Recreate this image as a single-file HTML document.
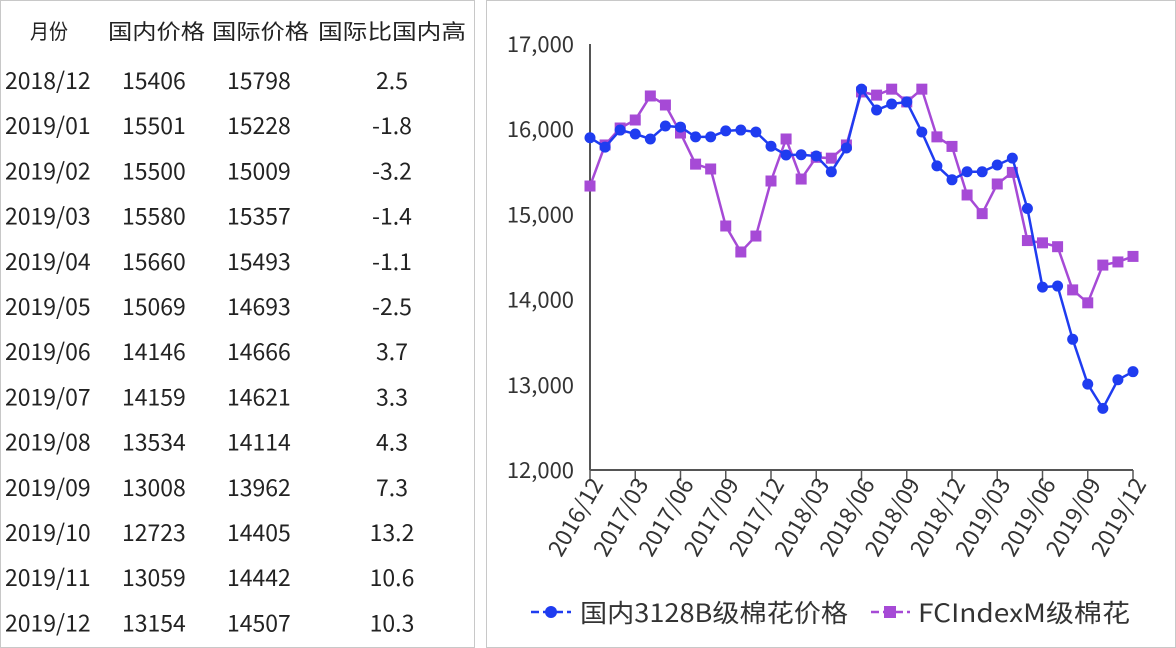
<!DOCTYPE html>
<html><head><meta charset="utf-8">
<style>
body{margin:0;width:1176px;height:648px;background:#fff;overflow:hidden;font-family:"Noto Sans CJK SC","Liberation Sans",sans-serif;}
.panel{position:absolute;border:1px solid #c8c8c8;box-sizing:border-box;}
text{font-family:"Noto Sans CJK SC","Liberation Sans",sans-serif;}
</style></head><body>
<div class="panel" style="left:0;top:0;width:475px;height:648px;"></div>
<div class="panel" style="left:486px;top:0;width:690px;height:648px;"></div>
<svg id="svg" width="1176" height="648" style="position:absolute;left:0;top:0"></svg>
<script>
const months=["2018/12","2019/01","2019/02","2019/03","2019/04","2019/05","2019/06","2019/07","2019/08","2019/09","2019/10","2019/11","2019/12"];
const tblDom=["15406","15501","15500","15580","15660","15069","14146","14159","13534","13008","12723","13059","13154"];
const tblIntl=["15798","15228","15009","15357","15493","14693","14666","14621","14114","13962","14405","14442","14507"];
const tblDiff=["2.5","-1.8","-3.2","-1.4","-1.1","-2.5","3.7","3.3","4.3","7.3","13.2","10.6","10.3"];
const domestic=[15900,15790,15990,15944,15885,16038,16025,15910,15910,15980,15990,15967,15800,15697,15700,15685,15500,15780,16470,16225,16296,16320,15967,15570,15406,15501,15500,15580,15660,15069,14146,14159,13534,13008,12723,13059,13154];
const intl=[15333,15815,16014,16108,16390,16284,15955,15590,15533,14864,14559,14746,15392,15885,15415,15670,15660,15815,16437,16400,16470,16320,16470,15910,15798,15228,15009,15357,15493,14693,14666,14621,14114,13962,14405,14442,14507];
const xLabels=["2016/12","2017/03","2017/06","2017/09","2017/12","2018/03","2018/06","2018/09","2018/12","2019/03","2019/06","2019/09","2019/12"];
const yTicks=[12000,13000,14000,15000,16000,17000];
const svg=document.getElementById('svg');
const NS='http://www.w3.org/2000/svg';
function mk(t,a,txt){const e=document.createElementNS(NS,t);for(const k in a)e.setAttribute(k,a[k]);if(txt!==undefined)e.textContent=txt;svg.appendChild(e);return e;}
const x0=590,x1=1133,yb=470,yt=44,vmin=12000,vmax=17000;
const X=i=>x0+(x1-x0)*i/(domestic.length-1);
const Y=v=>yb-(v-vmin)/(vmax-vmin)*(yb-yt);
const hdr=[["月份",30],["国内价格",108],["国际价格",212],["国际比国内高",318]];
hdr.forEach(h=>{const e=mk('text',{x:h[1],y:39,'font-size':21,fill:'#222',textLength:h[0].length===6?148:(h[0].length===4?97:38),lengthAdjust:'spacingAndGlyphs'},h[0]);

});
months.forEach((m,i)=>{const y=89+i*45.2;
let e=mk('text',{x:5,y:y,'font-size':23,fill:'#222'},m);
e=mk('text',{x:122,y:y,'font-size':23,fill:'#222'},tblDom[i]);
e=mk('text',{x:227,y:y,'font-size':23,fill:'#222'},tblIntl[i]);
e=mk('text',{x:392,y:y,'font-size':23,fill:'#222','text-anchor':'middle'},tblDiff[i]);
});
let ax=mk('line',{x1:x0,y1:yt,x2:x0,y2:yb,stroke:'#555','stroke-width':2});
ax=mk('line',{x1:x0,y1:yb,x2:x1,y2:yb,stroke:'#555','stroke-width':2});
yTicks.forEach(v=>{const e=mk('text',{x:574,y:Y(v)+8,'font-size':22,fill:'#333','text-anchor':'end'},v.toLocaleString('en-US'));
});
xLabels.forEach((l,k)=>{const x=X(k*3);
const t=mk('line',{x1:x,y1:yb,x2:x,y2:yb+11,stroke:'#555','stroke-width':1.5});
const e=mk('text',{x:x+14,y:yb+14,'font-size':23,fill:'#333','text-anchor':'end',transform:`rotate(-60 ${x+14} ${yb+14})`},l);
});
function series(vals,color,name,shape){
const p=mk('polyline',{points:vals.map((v,i)=>X(i)+','+Y(v)).join(' '),fill:'none',stroke:color,'stroke-width':2.5});

vals.forEach((v,i)=>{let m;
if(shape==='c')m=mk('circle',{cx:X(i),cy:Y(v),r:5.5,fill:color});
else m=mk('rect',{x:X(i)-5.5,y:Y(v)-5.5,width:11,height:11,fill:color});
});}
series(intl,'#a64ad6','fc-index','s');
series(domestic,'#1f3cf0','domestic','c');
let l=mk('line',{x1:531,y1:612,x2:571,y2:612,stroke:'#1f3cf0','stroke-width':2.5,'stroke-dasharray':'8 4'});
l=mk('circle',{cx:551,cy:612,r:6,fill:'#1f3cf0'});
l=mk('text',{x:580,y:622,'font-size':25,fill:'#333',textLength:268,lengthAdjust:'spacingAndGlyphs'},'国内3128B级棉花价格');
l=mk('line',{x1:871,y1:612,x2:910,y2:612,stroke:'#a64ad6','stroke-width':2.5,'stroke-dasharray':'8 4'});
l=mk('rect',{x:884,y:606,width:12,height:12,fill:'#a64ad6'});
l=mk('text',{x:918,y:622,'font-size':25,fill:'#333',textLength:212,lengthAdjust:'spacingAndGlyphs'},'FCIndexM级棉花');
</script>
</body></html>
